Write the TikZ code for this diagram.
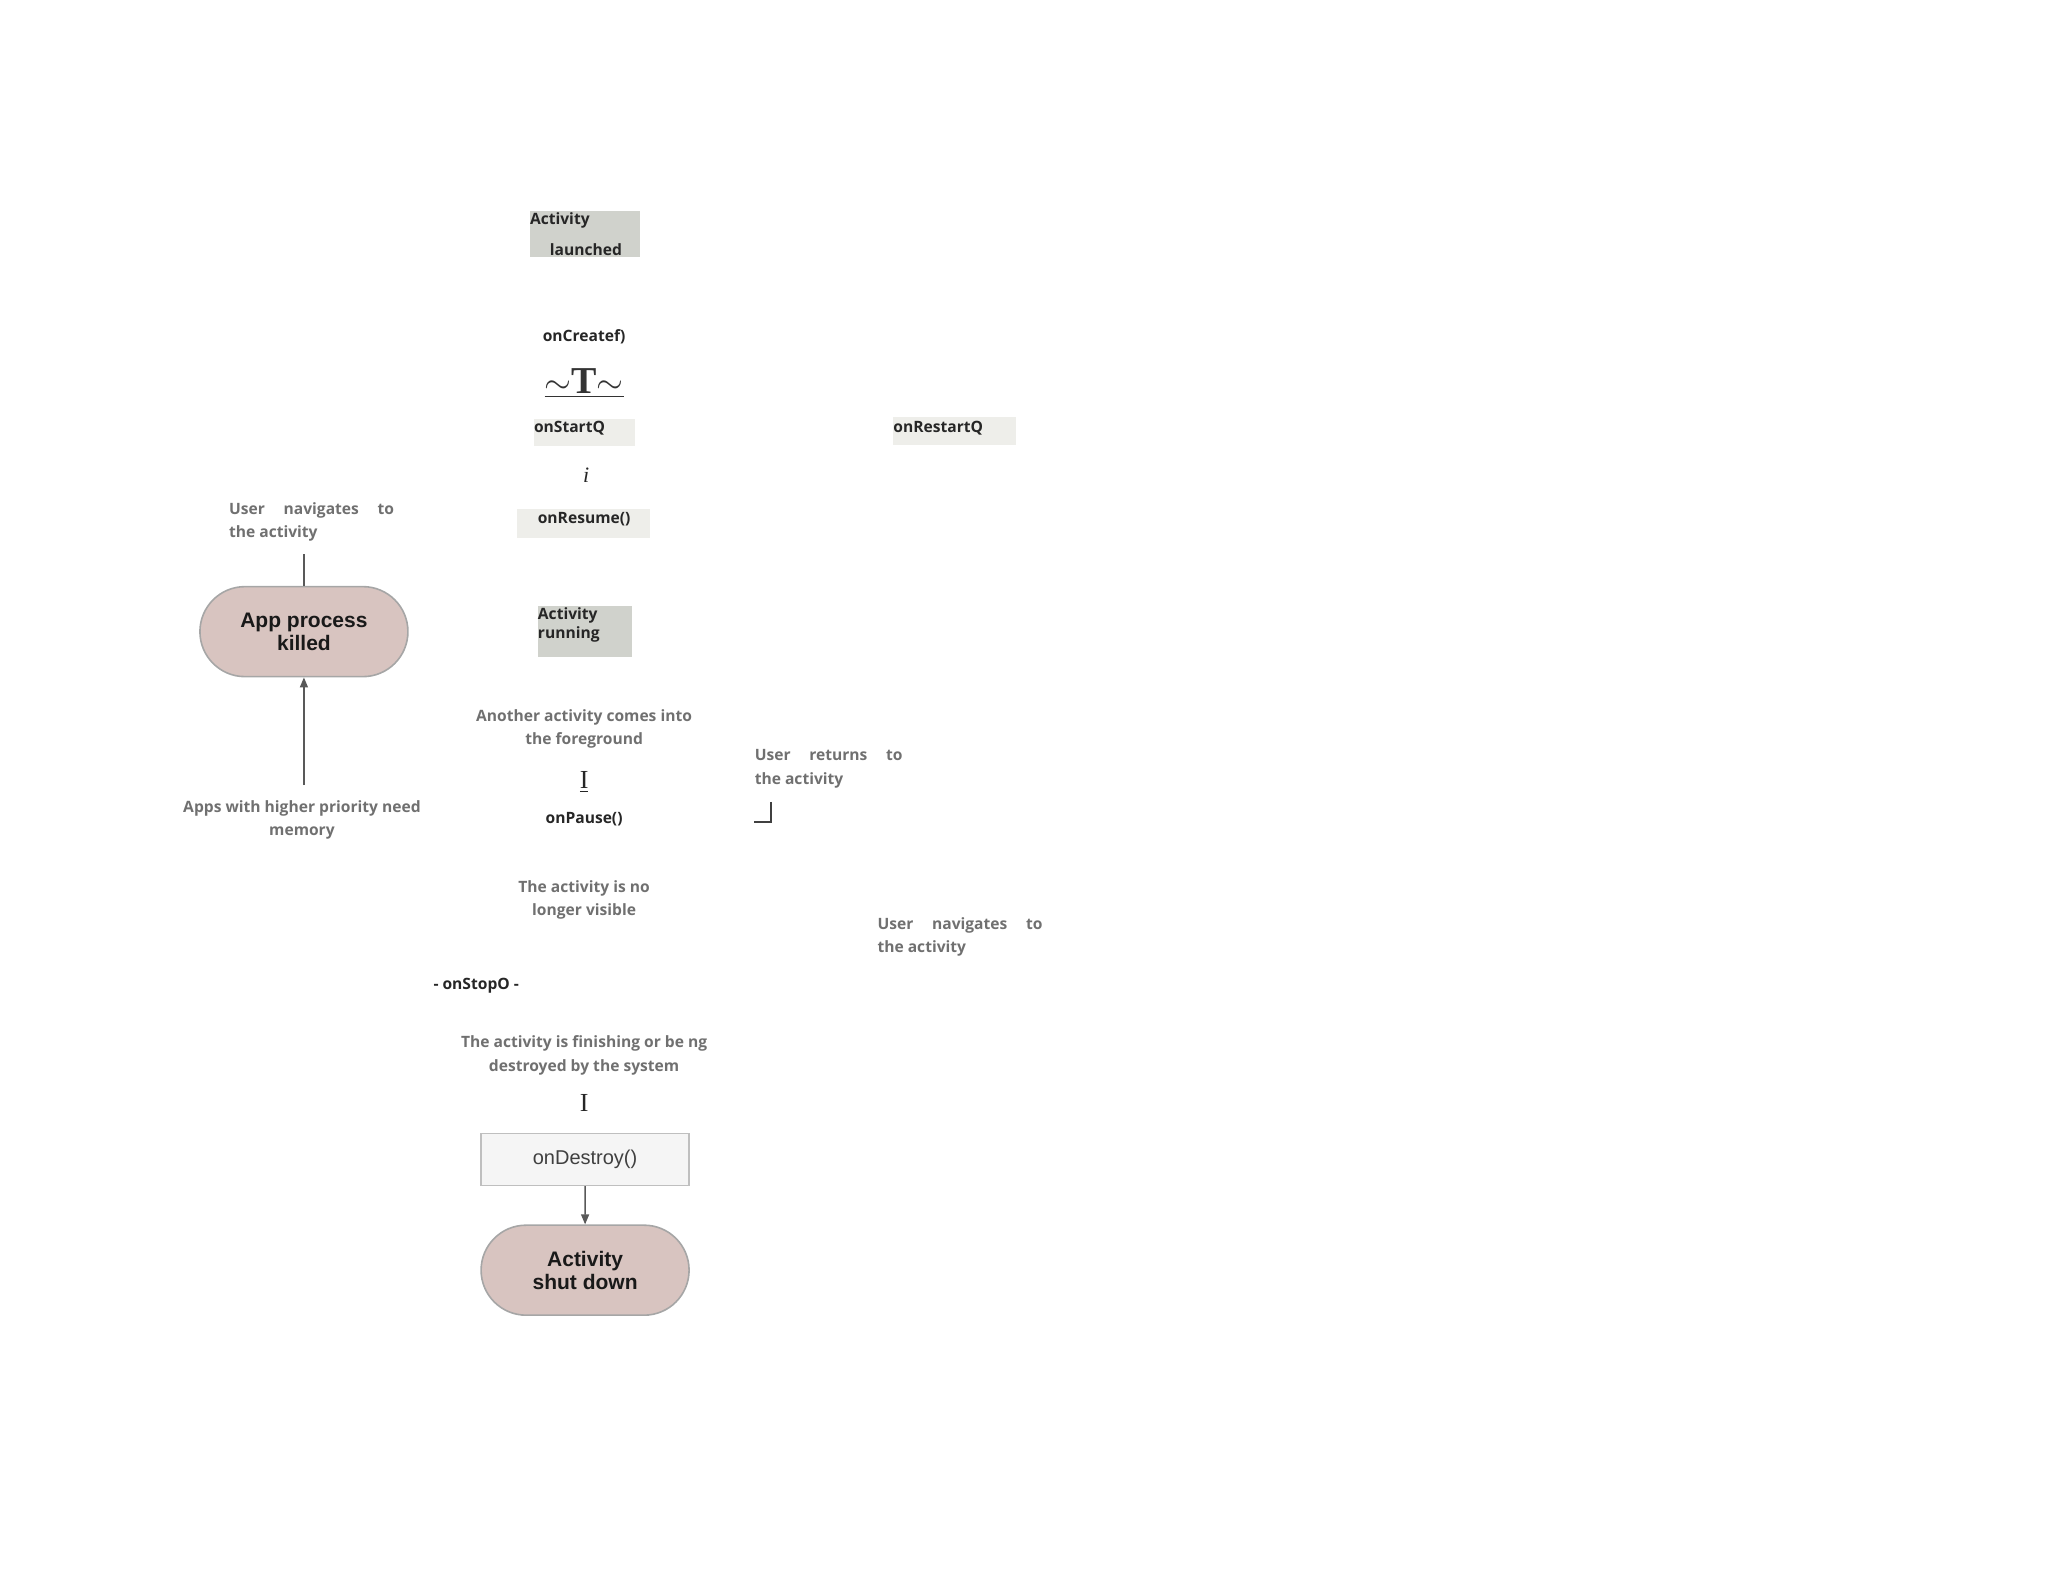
\documentclass[tikz,border=0pt]{standalone}
\usepackage{fontspec}
\setmainfont{Open Sans}
\newfontfamily\hel{Liberation Sans}
\newfontfamily\ser{Liberation Serif}
\usetikzlibrary{arrows.meta,shapes.misc}
\definecolor{lbl}{HTML}{707070}
\definecolor{boxg}{HTML}{D0D2CC}
\definecolor{boxl}{HTML}{EEEEEA}
\definecolor{pill}{HTML}{D8C4C0}
\begin{document}
\begin{tikzpicture}[x=0.495pt,y=-0.495pt,
  every node/.style={inner sep=0pt,font=\fontsize{7.8}{11.6}\selectfont\bfseries,text=black!85},
  gl/.style={text=lbl,align=center},
  gll/.style={text=lbl,align=left,anchor=north west},
  pillnode/.style={rounded rectangle,draw=gray!70,line width=0.8pt,fill=pill,minimum width=104pt,minimum height=45pt,font=\hel\fontsize{10.5}{11.5}\selectfont\bfseries,align=center,text=black!90},
  arr/.style={draw=black!65,line width=0.7pt,-{Triangle[length=5pt,width=4pt]}}]
\useasboundingbox (0,0) rectangle (2068.7,1598);
% Activity launched
\fill[boxg] (535,213) rectangle (646,260);
\node[anchor=west] (al1) at (535,223) {Activity};
\node[anchor=west] (al2) at (555,252) {launched};
\node (create) at (590,340) {onCreatef)};
\node[font=\ser\fontsize{19}{20}\selectfont\bfseries,text=black!80] (t1) at (590,387) {\underline{$\sim$T$\sim$}};
\fill[boxl] (539,423) rectangle (641,450);
\node[anchor=west] (start) at (539,432) {onStartQ};
\fill[boxl] (902,421) rectangle (1026,449);
\node[anchor=west] (restart) at (902,432) {onRestartQ};
\node[font=\ser\fontsize{11}{12}\selectfont\itshape] (ii) at (592,480) {i};
\fill[boxl] (522,514) rectangle (657,543);
\node (resume) at (590,524) {onResume()};
\fill[boxg] (543,612) rectangle (638,664);
\node[anchor=west] (ar1) at (543,622) {Activity};
\node[anchor=west] (ar2) at (543,641) {running};
\node[gl] (another) at (590,736) {Another activity comes into\\the foreground};
\node[font=\ser\fontsize{13}{14}\selectfont] (i2) at (590,790) {\underline{I}};
\node (pause) at (590,827) {onPause()};
\node[gll] (ret) at (762,757) {User\hspace{1.2em}returns\hspace{1.2em}to\\the activity};
\coordinate (b1) at (779,810);
\coordinate (b2) at (779,830);
\coordinate (b3) at (762,830);
\draw[black!75,line width=0.9pt] (b1) -- (b2) -- (b3);
\node[gl] (novis) at (590,909) {The activity is no\\longer visible};
\node[gll] (nav2) at (886,926) {User\hspace{1.2em}navigates\hspace{1.2em}to\\the activity};
\node (stop) at (481,996) {- onStopO -};
\node[gl] (fin) at (590,1066) {The activity is finishing or be ng\\destroyed by the system};
\node[font=\ser\fontsize{13}{14}\selectfont] (i3) at (590,1114) {I};
\node[draw=gray!50,line width=0.8pt,fill=black!4,minimum width=104pt,minimum height=26pt,font=\hel\fontsize{10}{11}\selectfont,text=black!75] (destroy) at (591,1171) {onDestroy()};
\node[pillnode] (shut) at (591,1283) {Activity\\shut down};
\draw[arr] (destroy) -- (shut);
\node[pillnode] (kill) at (307,638) {App process\\killed};
\node[gll] (nav1) at (231,507) {User\hspace{1.2em}navigates\hspace{1.2em}to\\the activity};
\coordinate (k1) at (307,560);
\draw[black!65,line width=0.7pt] (kill.north) -- (k1);
\node[gl] (prio) at (305,828) {Apps with higher priority need\\memory};
\coordinate (p1) at (307,793);
\draw[arr] (p1) -- (kill.south);
\end{tikzpicture}
\end{document}
